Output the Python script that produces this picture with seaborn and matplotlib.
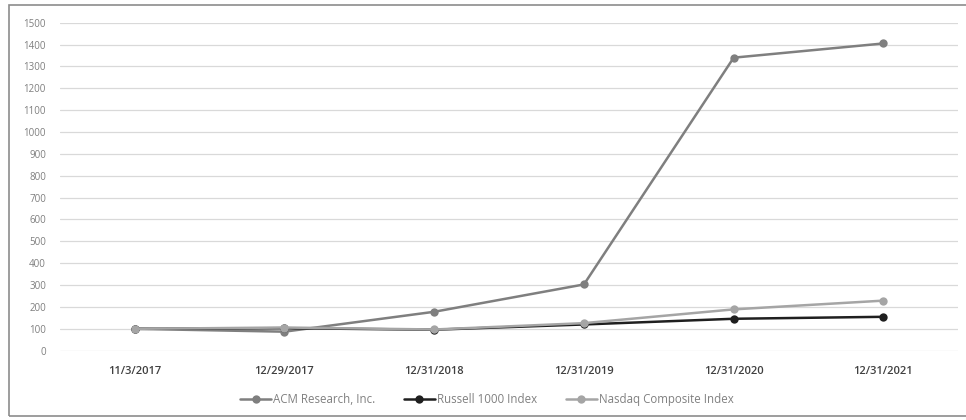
import pandas as pd
import seaborn as sns
import matplotlib.pyplot as plt
from matplotlib.patches import Rectangle

dates = ["11/3/2017", "12/29/2017", "12/31/2018", "12/31/2019", "12/31/2020", "12/31/2021"]
acm = [100, 87, 178, 303, 1340, 1405]
russell = [100, 103, 96, 120, 146, 155]
nasdaq = [100, 106, 97, 126, 189, 229]
series = ["ACM Research, Inc.", "Russell 1000 Index", "Nasdaq Composite Index"]
colors = ["#7f7f7f", "#1f1f1f", "#a5a5a5"]

rows = []
for name, vals in zip(series, [acm, russell, nasdaq]):
    for d, v in zip(dates, vals):
        rows.append({"date": d, "value": v, "series": name})
df = pd.DataFrame(rows)

sns.set_theme(style="white")
plt.rcParams["font.family"] = ["Open Sans", "DejaVu Sans"]

fig = plt.figure(figsize=(9.66, 4.2), dpi=100)
ax = fig.add_axes([0.062, 0.165, 0.93, 0.781])

sns.lineplot(data=df, x="date", y="value", hue="series", hue_order=series,
             palette=dict(zip(series, colors)), marker="o", markersize=6,
             markeredgewidth=0, linewidth=1.8, sort=False, ax=ax, zorder=3)

ax.set_xlim(-0.5, 5.5)
ax.set_ylim(0, 1500)
ax.set_yticks(range(0, 1501, 100))
ax.yaxis.grid(True, color="#d9d9d9", linewidth=0.9)
ax.set_axisbelow(True)
for s in ax.spines.values():
    s.set_visible(False)
ax.set_xlabel("")
ax.set_ylabel("")
ax.tick_params(axis="y", labelsize=7, colors="#7f7f7f", length=0, pad=10)
ax.tick_params(axis="x", labelsize=8, colors="#404040", length=0, pad=11)
for lbl in ax.get_xticklabels():
    lbl.set_fontweight("semibold")

ax.legend(loc="center", bbox_to_anchor=(0.475, -0.15), ncol=3, frameon=False,
          fontsize=8.3, labelcolor="#808080", handlelength=2.7, columnspacing=2.5,
          handletextpad=0.15)

fig.patches.append(Rectangle((0.009, 0.01), 0.995, 0.977, transform=fig.transFigure,
                             fill=False, edgecolor="#8c8c8c", linewidth=1.2))

fig.savefig("out.png", dpi=100)
